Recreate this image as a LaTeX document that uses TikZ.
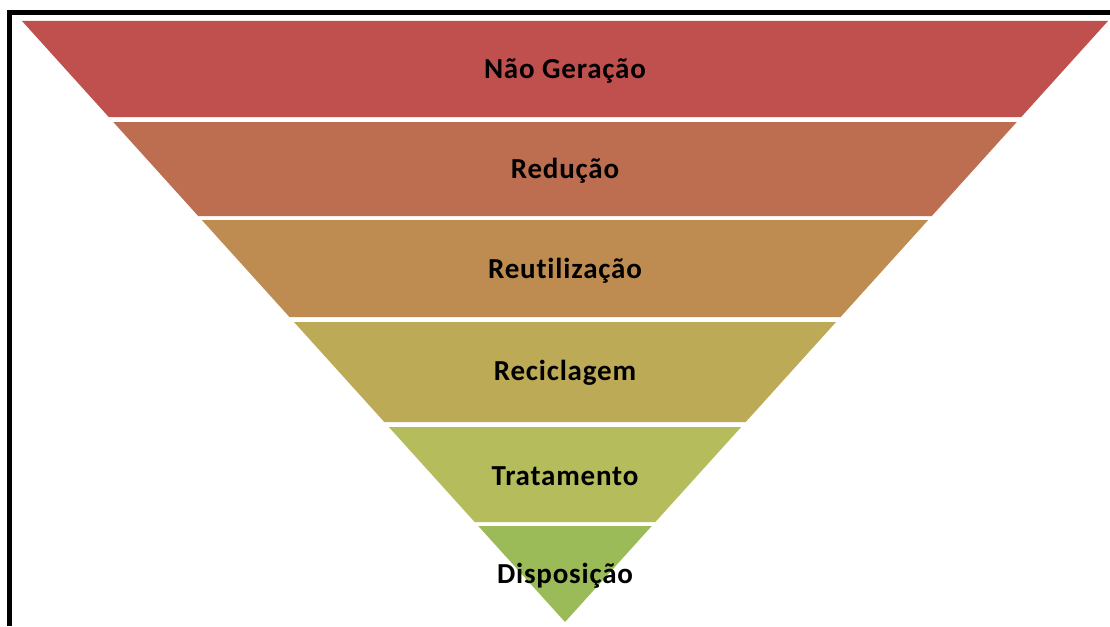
\documentclass[tikz,border=0pt]{standalone}
\usepackage{fontspec}
\setmainfont{Carlito}
\newfontfamily\labfont[LetterSpace=2.8,Ligatures=NoCommon]{Carlito}
\definecolor{cA}{HTML}{C0504D}
\definecolor{cB}{HTML}{BE6E50}
\definecolor{cC}{HTML}{BE8C51}
\definecolor{cD}{HTML}{BCAA56}
\definecolor{cE}{HTML}{B4BC5C}
\definecolor{cF}{HTML}{9BBB59}
\tikzset{
  band/.style={draw=none},
  label/.style={font=\labfont\fontsize{29}{33}\selectfont\bfseries, text=black, inner sep=0pt, anchor=base},
  frame/.style={line width=5pt, draw=black}
}
\newcommand{\myband}[4]{% top, bottom, colour, name
  \pgfmathsetmacro{\bandtop}{(622-#1)*0.903494}
  \pgfmathsetmacro{\bandbot}{(622-#2)*0.903494}
  \fill[band, #3] ({565-\bandtop},#1) -- ({565+\bandtop},#1) -- ({565+\bandbot},#2) -- ({565-\bandbot},#2) -- cycle;
  \coordinate (#4) at (565,{(#1+#2)/2+10});
}
\begin{document}
\begin{tikzpicture}[x=1pt,y=-1pt]
\useasboundingbox (0,0) rectangle (1110,626);
\fill[white] (0,0) rectangle (1110,626);
\draw[frame] (9.5,626) -- (9.5,12.5) -- (1110,12.5);
\myband{21}{117}{cA}{b1}
\myband{122}{216}{cB}{b2}
\myband{220}{317}{cC}{b3}
\myband{322}{422}{cD}{b4}
\myband{427}{522}{cE}{b5}
\myband{526}{622}{cF}{b6}
\node[label] (t1) at ([yshift=0.5pt]b1) {Não Geração};
\node[label] (t2) at ([yshift=1pt]b2) {Redução};
\node[label] (t3) at (b3) {Reutilização};
\node[label] (t4) at ([yshift=1.5pt]b4) {Reciclagem};
\node[label] (t5) at ([yshift=-1pt]b5) {Tratamento};
\node[label] (t6) at ([yshift=0.5pt]b6) {Disposição};
\end{tikzpicture}
\end{document}
